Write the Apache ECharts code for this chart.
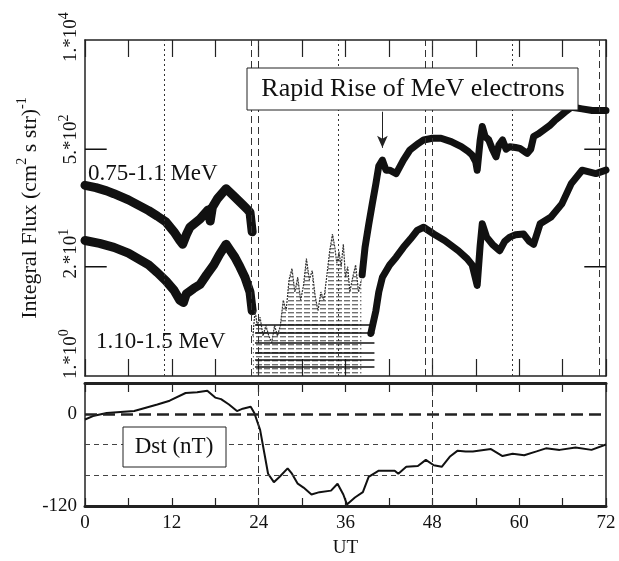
<!DOCTYPE html>
<html><head><meta charset="utf-8">
<script src="https://cdn.jsdelivr.net/npm/echarts@6/dist/echarts.min.js"></script>
<style>html,body{margin:0;padding:0;background:#fff}#c{width:619px;height:561px}</style>
</head><body><div id="c"></div>
<script>
// ---------- data ----------
const hourLabels = [0, 12, 24, 36, 48, 60, 72];
const fluxTickValues = [1, 20, 500, 10000];
const fluxTickMantissa = ['1.*10', '2.*10', '5.*10', '1.*10'];
const fluxTickExp = ['0', '1', '2', '4'];
const fluxMajorTicks = [20, 500];
const dstTickValues = [-120, 0];
const dstRefLines = [-40, -80];
const dottedHours = [11, 35, 59];
const dashedHours = [23, 24, 47, 48, 71];
const dstDashedHours = [24, 48];

// 0.75-1.1 MeV before the storm gap
const hiHours = [0, 1.5, 3, 4, 6, 8.8, 10, 11.2, 12.3, 13.1, 13.5, 14.0, 14.5, 15.9, 17.0, 17.3, 17.6, 18.3, 19.5, 20.7, 21.9, 22.5, 22.8, 23.1];
const hiFlux  = [186, 175, 160, 148, 125, 93, 80, 68, 52, 41, 37, 48, 59, 74, 95, 70, 102, 129, 170, 135, 107, 95, 89, 52];
// 1.10-1.5 MeV before the gap
const loHours = [0, 2, 4, 6, 8.8, 10, 11.2, 12.3, 13.1, 13.6, 14.0, 15.0, 15.9, 16.8, 17.8, 18.6, 19.5, 20.1, 20.7, 21.4, 22.1, 22.8, 23.1];
const loFlux  = [41, 38, 34, 29, 21, 17, 13.5, 10.5, 8, 7.5, 9.5, 11, 12.3, 16, 21, 28, 37, 31, 26, 20, 15, 10, 6];
// low-count spikes inside the gap
const gapHours = [23.2, 23.5, 23.8, 24.2, 24.6, 25.0, 25.4, 25.8, 26.2, 26.6, 27.0, 27.4, 27.8, 28.2, 28.6, 29.0, 29.4, 29.8, 30.2, 30.6, 31.0, 31.4, 31.8, 32.2, 32.6, 33.0, 33.4, 33.8, 34.2, 34.5, 34.8, 35.1, 35.4, 35.7, 36.0, 36.3, 36.6, 37.0, 37.4, 37.8, 38.2];
const gapFlux  = [3, 6, 4, 5, 3, 4, 3, 2.5, 4, 3, 4, 8, 6, 14, 19, 10, 15, 8, 12, 25, 14, 18, 9, 6, 10, 8, 15, 30, 49, 35, 22, 30, 20, 37, 15, 20, 10, 15, 21, 10, 14];
const gapLevels = [1.28, 1.58, 1.9, 2.5, 3.3, 4.1];
const gapStart = 23.5, gapEnd = 40;
// 0.75-1.1 MeV after the gap
const hi2Hours = [38.3, 38.7, 39.2, 39.7, 40.2, 40.6, 41.1, 41.6, 42.1, 43.0, 44.0, 44.9, 46.1, 46.8, 48, 49.2, 50.6, 52.0, 53.0, 53.5, 54.0, 54.2, 54.6, 54.9, 55.3, 55.8, 56.3, 56.8, 57.2, 57.7, 58.2, 58.7, 59.5, 60.1, 61.1, 61.6, 62.0, 62.6, 63.4, 64.2, 64.9, 65.6, 66.3, 67.2, 68.0, 68.7, 70.1, 71, 72];
const hi2Flux  = [16, 34, 63, 112, 195, 316, 372, 282, 282, 257, 372, 490, 589, 646, 676, 676, 617, 537, 468, 427, 355, 282, 631, 933, 708, 646, 501, 407, 562, 646, 501, 537, 525, 513, 447, 501, 708, 759, 851, 955, 1096, 1230, 1380, 1585, 1549, 1514, 1445, 1445, 1445];
// 1.10-1.5 MeV after the gap
const lo2Hours = [39.5, 40.2, 40.6, 41.1, 42.1, 43.0, 44.0, 45.0, 45.9, 46.8, 48.2, 49.7, 51.6, 52.8, 53.5, 54.2, 54.6, 54.9, 55.5, 56.3, 57.3, 58.0, 58.7, 59.5, 60.6, 61.4, 62.0, 62.9, 64.4, 65.9, 67.2, 68.7, 70.6, 72];
const lo2Flux  = [3.2, 6, 10, 15, 21, 26, 34, 43, 54, 59, 49, 41, 31, 25, 21, 12, 35, 65, 45, 37, 31, 40, 45, 48, 49, 40, 37, 65, 78, 112, 195, 282, 257, 282];
// arrow "Rapid Rise"
const arrowHour = 41.1, arrowFrom = 1400, arrowTo = 520;
// Dst index
const dstHours  = [0, 1.1, 3, 6.8, 10, 11.7, 13.9, 15.5, 16.9, 18, 18.8, 19.9, 21, 21.8, 22.9, 23.4, 24.2, 24.8, 25.3, 26.1, 26.9, 28, 28.6, 29.4, 30.2, 31.3, 32.4, 34, 34.9, 35.7, 36.2, 37.3, 38.4, 39.2, 40.6, 42.8, 43.3, 44.4, 46, 47.1, 48.2, 49.3, 50.4, 51.5, 52.6, 53.6, 56.1, 57.7, 59.1, 60.7, 62.4, 63.7, 65.6, 67.8, 70, 72];
const dstValues = [-7.5, -3, 1, 3.5, 12, 17, 27, 28, 30, 21, 19, 12, 3.5, 6.6, 9, 1, -21, -52, -78, -89, -82, -71, -78, -91, -96, -105, -102, -100, -91, -105, -118, -109, -102, -82, -74, -74, -78, -69, -68, -60, -67, -69, -56, -48, -49, -49, -46, -55, -52, -54, -49, -45, -47, -44, -47, -40];

// ---------- chart ----------
const FONT = 'Liberation Serif, Times New Roman, serif';
const zip = (a, b) => a.map((v, i) => [v, b[i]]);
const chart = echarts.init(document.getElementById('c'), null, {renderer: 'canvas'});

// horizontal-dash texture used for the quantised low-count region
const hatch = document.createElement('canvas');
hatch.width = 8; hatch.height = 4;
const hctx = hatch.getContext('2d');
hctx.fillStyle = 'rgba(20,20,20,0.85)';
hctx.fillRect(0, 0, 6, 1.4);

const axisLineStyle = (w, onZero) => ({show: true, onZero: !!onZero, lineStyle: {color: '#222', width: w}});
const TICK_H = 3; // inward tick length in hours (~22 px)
const vLines = [
  ...dottedHours.map(h => ({xAxis: h, lineStyle: {type: [2, 3], color: '#333', width: 1}})),
  ...dashedHours.map(h => ({xAxis: h, lineStyle: {type: [7, 4], color: '#333', width: 1}}))
];
// inward y ticks at 20 and 500, drawn on both sides of the upper panel
const tickSeries = fluxMajorTicks.flatMap(v => [[[0, v], [TICK_H, v]], [[72 - TICK_H, v], [72, v]]]).map(seg => ({
  type: 'line', xAxisIndex: 0, yAxisIndex: 0, data: seg, showSymbol: false, silent: true,
  lineStyle: {color: '#111', width: 1.5}, z: 5
}));
// spacer styles that lift each rotated log label along the axis (style only)
const labelSpacer = ['g0', 'g1', 'g2', 'g3'];

const option = {
  animation: false,
  backgroundColor: '#fff',
  grid: [
    {left: 85, right: 13, top: 40, height: 336, outerBoundsMode: 'none', containLabel: false},
    {left: 85, right: 13, top: 383, height: 123, outerBoundsMode: 'none', containLabel: false}
  ],
  xAxis: [
    {gridIndex: 0, type: 'value', min: 0, max: 72, interval: 6, position: 'bottom',
     axisLine: axisLineStyle(1.5), axisTick: {inside: true, length: 17, lineStyle: {color: '#222', width: 1.2}},
     axisLabel: {show: false}, splitLine: {show: false}},
    {gridIndex: 0, type: 'value', min: 0, max: 72, interval: 6, position: 'top',
     axisLine: axisLineStyle(1.5), axisTick: {inside: true, length: 17, lineStyle: {color: '#222', width: 1.2}},
     axisLabel: {show: false}, splitLine: {show: false}},
    {gridIndex: 1, type: 'value', min: 0, max: 72, interval: 6, position: 'bottom',
     axisLine: axisLineStyle(3), axisTick: {inside: true, length: 8, lineStyle: {color: '#222', width: 1.2}},
     axisLabel: {customValues: hourLabels, fontFamily: FONT, fontSize: 19, color: '#111', margin: 8},
     name: 'UT', nameLocation: 'middle', nameGap: 33,
     nameTextStyle: {fontFamily: FONT, fontSize: 19, color: '#111'},
     splitLine: {show: false}},
    {gridIndex: 1, type: 'value', min: 0, max: 72, interval: 6, position: 'top',
     axisLine: axisLineStyle(3), axisTick: {inside: true, length: 9, lineStyle: {color: '#222', width: 1.2}},
     axisLabel: {show: false}, splitLine: {show: false}}
  ],
  yAxis: [
    {gridIndex: 0, type: 'log', logBase: 10, min: 1, max: 10000, position: 'left',
     axisLine: axisLineStyle(1.5, true), axisTick: {show: false},
     axisLabel: {customValues: fluxTickValues, rotate: 90, margin: 0,
       formatter: (v) => {
         const i = fluxTickValues.findIndex(t => Math.abs(t - v) / t < 1e-6);
         return i < 0 ? '' : '{' + labelSpacer[i] + '| }{m|' + fluxTickMantissa[i] + '}{s|' + fluxTickExp[i] + '}';
       },
       rich: {m: {fontFamily: FONT, fontSize: 19, color: '#111'},
              s: {fontFamily: FONT, fontSize: 14, color: '#111', padding: [0, 0, 14, 0]},
              g0: {width: 44, fontSize: 4}, g1: {width: 26, fontSize: 4},
              g2: {width: 20, fontSize: 4}, g3: {width: 6, fontSize: 4}}},
     splitLine: {show: false},
     name: '{a|Integral Flux (cm}{s|2}{a| s str)}{s|-1}', nameLocation: 'middle', nameGap: 40,
     nameTextStyle: {rich: {a: {fontFamily: FONT, fontSize: 22, color: '#111'},
                            s: {fontFamily: FONT, fontSize: 14, color: '#111', padding: [0, 0, 16, 0]}}}},
    {gridIndex: 0, type: 'log', logBase: 10, min: 1, max: 10000, position: 'right',
     axisLine: axisLineStyle(1.5), axisTick: {show: false},
     axisLabel: {show: false}, splitLine: {show: false}},
    {gridIndex: 1, type: 'value', min: -120, max: 40, position: 'left',
     axisLine: axisLineStyle(1.5, true), axisTick: {show: false},
     axisLabel: {customValues: dstTickValues, fontFamily: FONT, fontSize: 19, color: '#111', margin: 8},
     splitLine: {show: false}},
    {gridIndex: 1, type: 'value', min: -120, max: 40, position: 'right',
     axisLine: axisLineStyle(1.5), axisTick: {show: false}, axisLabel: {show: false}, splitLine: {show: false}}
  ],
  series: [
    {name: '0.75-1.1 MeV', type: 'line', xAxisIndex: 0, yAxisIndex: 0, data: zip(hiHours, hiFlux),
     showSymbol: false, lineStyle: {color: '#111', width: 9, join: 'round', cap: 'round'},
     markLine: {silent: true, symbol: 'none', label: {show: false}, data: vLines}},
    {name: '1.10-1.5 MeV', type: 'line', xAxisIndex: 0, yAxisIndex: 0, data: zip(loHours, loFlux),
     showSymbol: false, lineStyle: {color: '#111', width: 9, join: 'round', cap: 'round'}},
    {name: 'gap', type: 'line', xAxisIndex: 0, yAxisIndex: 0, data: zip(gapHours, gapFlux),
     showSymbol: false, lineStyle: {color: '#333', width: 1.2, type: [2, 1]},
     areaStyle: {origin: 'start', color: {image: hatch, repeat: 'repeat'}},
     markLine: {silent: true, symbol: 'none', label: {show: false},
       lineStyle: {color: '#111', width: 1.6, type: 'solid'},
       data: gapLevels.map(l => [{coord: [gapStart, l]}, {coord: [gapEnd, l]}])}},
    {name: '0.75-1.1 MeV after', type: 'line', xAxisIndex: 0, yAxisIndex: 0, data: zip(hi2Hours, hi2Flux),
     showSymbol: false, lineStyle: {color: '#111', width: 7, join: 'round', cap: 'round'},
     markLine: {silent: true, symbol: ['none', 'arrow'], symbolSize: [8, 12], label: {show: false},
       lineStyle: {color: '#222', width: 1, type: 'solid'},
       data: [[{coord: [arrowHour, arrowFrom]}, {coord: [arrowHour, arrowTo]}]]}},
    {name: '1.10-1.5 MeV after', type: 'line', xAxisIndex: 0, yAxisIndex: 0, data: zip(lo2Hours, lo2Flux),
     showSymbol: false, lineStyle: {color: '#111', width: 7, join: 'round', cap: 'round'}},
    {name: 'Dst', type: 'line', xAxisIndex: 2, yAxisIndex: 2, data: zip(dstHours, dstValues),
     showSymbol: false, lineStyle: {color: '#111', width: 2},
     markLine: {silent: true, symbol: 'none', label: {show: false},
       data: [
         {yAxis: 0, lineStyle: {type: [12, 6], color: '#222', width: 2.5}},
         ...dstRefLines.map(v => ({yAxis: v, lineStyle: {type: [5, 4], color: '#444', width: 1}})),
         ...dstDashedHours.map(h => ({xAxis: h, lineStyle: {type: [7, 4], color: '#333', width: 1}}))
       ]}},
    ...tickSeries
  ],
  graphic: [
    {type: 'text', left: 88, top: 162, z: 100,
     style: {text: '0.75-1.1 MeV', fontFamily: FONT, fontSize: 23, fill: '#111'}},
    {type: 'text', left: 96, top: 330, z: 100,
     style: {text: '1.10-1.5 MeV', fontFamily: FONT, fontSize: 23, fill: '#111'}},
    {type: 'rect', shape: {x: 247, y: 68, width: 331, height: 42}, z: 100,
     style: {fill: '#fff', stroke: '#222', lineWidth: 1}},
    {type: 'text', x: 413, y: 89, z: 101,
     style: {text: 'Rapid Rise of MeV electrons', fontFamily: FONT, fontSize: 26, fill: '#111', align: 'center', verticalAlign: 'middle'}},
    {type: 'rect', shape: {x: 123, y: 427, width: 103, height: 40}, z: 100,
     style: {fill: '#fff', stroke: '#222', lineWidth: 1}},
    {type: 'text', x: 174, y: 447, z: 101,
     style: {text: 'Dst (nT)', fontFamily: FONT, fontSize: 23, fill: '#111', align: 'center', verticalAlign: 'middle'}}
  ]
};
chart.setOption(option);
</script>
</body></html>
